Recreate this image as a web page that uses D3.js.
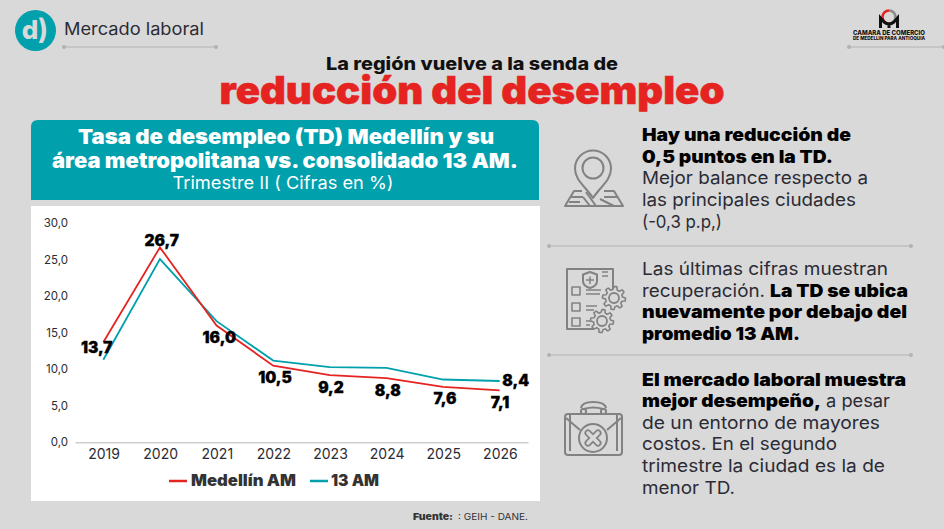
<!DOCTYPE html>
<html>
<head>
<meta charset="utf-8">
<script src="https://cdn.jsdelivr.net/npm/d3@7"></script>
<style>
  html, body { margin: 0; padding: 0; background: #d9d9d9; overflow: hidden; }
  svg { display: block; font-family: Inter, "Open Sans", sans-serif; }
</style>
</head>
<body>
<div id="chart"></div>
<script>
const years = ['2019', '2020', '2021', '2022', '2023', '2024', '2025', '2026'];
const medellin = [13.7, 26.7, 16.0, 10.5, 9.2, 8.8, 7.6, 7.1];
const am13 = [11.3, 25.1, 16.6, 11.2, 10.3, 10.2, 8.6, 8.4];
const yTicks = [0, 5, 10, 15, 20, 25, 30];
const seriesNames = ['Medellín AM', '13 AM'];

const RED = '#e52421', TEAL = '#00a0ad', INK = '#000', GREY = '#2b2b35', ICON = '#828282', BG = '#d9d9d9';

const svg = d3.select('#chart').append('svg').attr('width', 944).attr('height', 529);
svg.append('rect').attr('width', 944).attr('height', 529).attr('fill', BG);

// text helper, width forces the line to the measured length of the reference
function txt(s, x, y, size, weight, fill, anchor, width, heavy) {
    const t = svg.append('text').attr('x', x).attr('y', y)
        .attr('font-size', size).attr('font-weight', weight)
        .attr('fill', fill).attr('text-anchor', anchor || 'start').text(s);
    if (width) t.attr('textLength', width).attr('lengthAdjust', 'spacingAndGlyphs');
    if (heavy) t.attr('stroke', fill).attr('stroke-width', heavy);
    return t;
}

function rule(x1, x2, y) {
    svg.append('line').attr('x1', x1).attr('x2', x2).attr('y1', y).attr('y2', y)
        .attr('stroke', '#b2b2b2').attr('stroke-width', 1);
    [x1, x2].forEach(x => svg.append('circle').attr('cx', x).attr('cy', y).attr('r', 2).attr('fill', '#b2b2b2'));
}

// header
svg.append('circle').attr('cx', 35.5).attr('cy', 30.5).attr('r', 20.5).attr('fill', TEAL);
txt('d', 30, 39, 26, 800, BG, 'middle');
txt(')', 43, 39, 28, 700, BG, 'middle');
txt('Mercado laboral', 64, 35, 17, 400, GREY, 'start', 140);
rule(64, 216, 47);

// logo
const logo = svg.append('g').attr('fill', 'none');
logo.append('path').attr('d', 'M889,10.5 A6.5,6.5 0 0 0 889,23.5').attr('stroke', RED).attr('stroke-width', 2.6);
logo.append('path').attr('d', 'M889,10.5 A6.5,6.5 0 0 1 889,23.5').attr('stroke', '#8a8a8a').attr('stroke-width', 2.6);
logo.append('path').attr('d', 'M880.5,28 V18 L884,22 Q889,26 894,22 L897.5,18 V28 M889,24 V28').attr('stroke', '#111').attr('stroke-width', 3);
txt('CAMARA DE COMERCIO', 853, 35, 6.4, 800, '#111', 'start', 72);
txt('DE MEDELLÍN PARA ANTIOQUIA', 853, 40, 4.6, 800, '#111', 'start', 72);
rule(849, 944, 47);

// titles
txt('La región vuelve a la senda de', 472, 69.5, 17.5, 800, '#111', 'middle', 292);
txt('reducción del desempleo', 472, 104, 38, 900, RED, 'middle', 505, 0.5);

// chart header box
svg.append('path').attr('d', 'M31,200 V127 Q31,120 38,120 H532 Q539,120 539,127 V200 Z').attr('fill', TEAL);
txt('Tasa de desempleo (TD) Medellín y su', 286, 144, 20.5, 900, '#fff', 'middle', 416);
txt('área metropolitana vs. consolidado 13 AM.', 285, 168, 20.5, 900, '#fff', 'middle', 466);
txt('Trimestre II ( Cifras en %)', 283, 189, 17.5, 400, '#fff', 'middle', 221);

// chart panel
svg.append('rect').attr('x', 31).attr('y', 206).attr('width', 509).attr('height', 295).attr('fill', '#fff');

const x = d3.scaleBand().domain(years).range([75, 528]);
const y = d3.scaleLinear().domain([0, 30]).range([442.3, 223.3]);
const cx = year => x(year) + x.bandwidth() / 2;

const yAxis = svg.append('g').attr('transform', 'translate(75,0)')
    .call(d3.axisLeft(y).tickValues(yTicks).tickSize(0).tickPadding(7)
        .tickFormat(d => d3.format('.1f')(d).replace('.', ',')));
yAxis.select('.domain').remove();
yAxis.selectAll('text').attr('font-family', 'Inter').attr('font-size', 11.5).attr('fill', GREY);

const xAxis = svg.append('g').attr('transform', 'translate(0,442.3)')
    .call(d3.axisBottom(x).tickSize(0).tickPadding(7).tickSizeOuter(0));
xAxis.select('.domain').attr('stroke', '#b5b5b5').attr('stroke-width', 1);
xAxis.selectAll('text').attr('font-family', 'Inter').attr('font-size', 14).attr('fill', GREY)
    .attr('dx', 0.7);

const line = d3.line().x((d, i) => cx(years[i])).y(d => y(d));

svg.append('path').attr('d', line(am13)).attr('fill', 'none').attr('stroke', TEAL).attr('stroke-width', 1.8);
svg.append('path').attr('d', line(medellin)).attr('fill', 'none').attr('stroke', RED).attr('stroke-width', 1.8);

// data labels, offsets from each point
const fmt = v => d3.format('.1f')(v).replace('.', ',');
const redLabelDx = [-6.6, 1.8, 2.7, 1.8, 1.2, 1.3, 1.9, 0.3];
const redLabelDy = [10.4, -1.7, 17.2, 17.1, 17.6, 17.7, 17.2, 17.2];
medellin.forEach((v, i) => {
    txt(fmt(v), cx(years[i]) + redLabelDx[i], y(v) + redLabelDy[i], 15.5, 900, INK, 'middle', null, 0.3);
});
txt(fmt(am13[7]), cx('2026') + 16, y(am13[7]) + 5, 15.5, 900, INK, 'middle', null, 0.3);

// legend
svg.append('line').attr('x1', 169).attr('x2', 187).attr('y1', 481).attr('y2', 481).attr('stroke', RED).attr('stroke-width', 2.5);
txt(seriesNames[0], 191, 486, 15.5, 900, '#333', 'start', 105);
svg.append('line').attr('x1', 310).attr('x2', 328).attr('y1', 481).attr('y2', 481).attr('stroke', TEAL).attr('stroke-width', 2.5);
txt(seriesNames[1], 331, 486, 15.5, 900, '#333', 'start', 48);

// source
txt('Fuente:', 413, 520, 9.5, 900, '#333', 'start', 40);
txt(': GEIH - DANE.', 458, 520, 9.5, 400, '#333', 'start', 70);

// right column
const B = 900, R = 400, FS = 17.8;
txt('Hay una reducción de', 642, 141, FS, B, INK, 'start', 209);
txt('0,5 puntos en la TD.', 642, 163, FS, B, INK, 'start', 191);
txt('Mejor balance respecto a', 642, 184, FS, R, GREY, 'start', 226);
txt('las principales ciudades', 642, 206, FS, R, GREY, 'start', 214);
txt('(-0,3 p.p,)', 642, 228, FS, R, GREY, 'start', 80);
rule(549, 911, 246);

txt('Las últimas cifras muestran', 642, 275, FS, R, GREY, 'start', 246);
txt('recuperación.', 642, 297, FS, R, GREY, 'start', 123);
txt('La TD se ubica', 770, 297, FS, B, INK, 'start', 138);
txt('nuevamente por debajo del', 642, 318, FS, B, INK, 'start', 265);
txt('promedio 13 AM.', 642, 340, FS, B, INK, 'start', 158);
rule(549, 911, 355);

txt('El mercado laboral muestra', 642, 386, FS, B, INK, 'start', 264);
txt('mejor desempeño,', 642, 407, FS, B, INK, 'start', 179);
txt('a pesar', 826, 407, FS, R, GREY, 'start', 64);
txt('de un entorno de mayores', 642, 429, FS, R, GREY, 'start', 238);
txt('costos. En el segundo', 642, 450, FS, R, GREY, 'start', 195);
txt('trimestre la ciudad es la de', 642, 472, FS, R, GREY, 'start', 243);
txt('menor TD.', 642, 494, FS, R, GREY, 'start', 93);

// icons
const icon = svg.append('g').attr('fill', 'none').attr('stroke', ICON).attr('stroke-width', 2).attr('stroke-linejoin', 'round');
// map pin
icon.append('path').attr('d', 'M582,191 H574 L565,206 H623 L614,191 H604 M571,197 H583 M569,202 H580 M586,192 L596,206 M590,206 L583,197 M600,199 L614,206 M604,197 H617');
icon.append('path').attr('d', 'M593,198 C585,186 575,180 575,168.500 A18,18 0 0 1 611,168.500 C611,180 601,186 593,198 Z').attr('fill', BG);
icon.append('circle').attr('cx', 593).attr('cy', 168).attr('r', 10.5);
// checklist
icon.append('path').attr('d', 'M613,290 V269 H567 V329 H594');
icon.append('path').attr('d', 'M590,272 L597,274.500 V281 Q597,286 590,288 Q583,286 583,281 V274.500 Z');
icon.append('path').attr('d', 'M590,276.500 V284 M586,280 H594 M602,272 H608 M602,276 H608').attr('stroke-width', 1.5);
[290, 306, 321].forEach(v => icon.append('rect').attr('x', 572).attr('y', v - 3).attr('width', 8).attr('height', 8).attr('stroke-width', 1.6));
icon.append('path').attr('d', 'M586,290 H601 M586,294 H600 M586,306 H597 M586,310 H594 M586,321 H590 M586,325 H590').attr('stroke-width', 1.5);
[[614, 298], [602, 321]].forEach(([gx, gy]) => {
    const pts = d3.range(48).map(i => {
        const a = i * Math.PI / 24;
        const rr = (i % 6 < 3) ? 11.5 : 8.5;
        return [gx + rr * Math.cos(a), gy + rr * Math.sin(a)];
    });
    icon.append('path').attr('d', d3.line()(pts) + 'Z').attr('fill', BG).attr('stroke-width', 1.6);
    icon.append('circle').attr('cx', gx).attr('cy', gy).attr('r', 5).attr('stroke-width', 1.8);
});
// briefcase
icon.append('path').attr('d', 'M581,408 Q582,402 593,402 Q605,402 606,408 M584,409 Q593,406 603,409');
icon.append('rect').attr('x', 581).attr('y', 409).attr('width', 5).attr('height', 5).attr('rx', 2);
icon.append('rect').attr('x', 601).attr('y', 409).attr('width', 5).attr('height', 5).attr('rx', 2);
icon.append('rect').attr('x', 565).attr('y', 414).attr('width', 57).attr('height', 41).attr('rx', 3);
icon.append('path').attr('d', 'M570,414 V451 M617,414 V451 M566,418 L580,430 M621,418 L607,430');
icon.append('circle').attr('cx', 593).attr('cy', 438).attr('r', 14).attr('fill', BG);
icon.append('path').attr('d', 'M588,433 L598,443 M598,433 L588,443').attr('stroke-width', 7).attr('stroke-linecap', 'round');
icon.append('path').attr('d', 'M588,433 L598,443 M598,433 L588,443').attr('stroke-width', 3.6).attr('stroke', BG).attr('stroke-linecap', 'round');
</script>
</body>
</html>
